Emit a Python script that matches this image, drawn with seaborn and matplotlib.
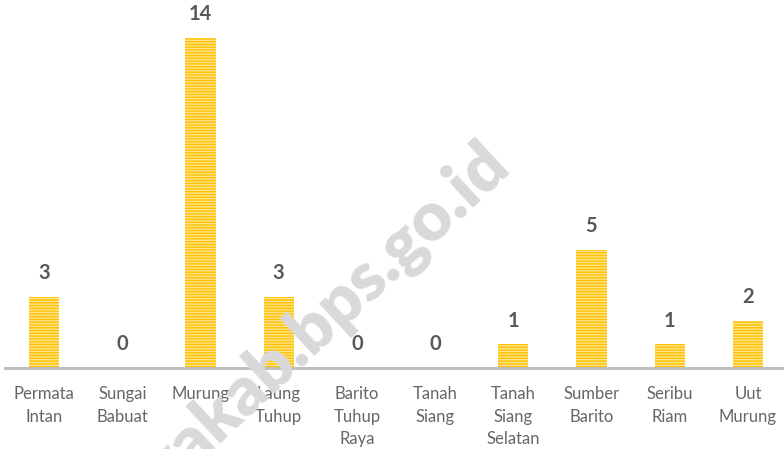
import numpy as np
import pandas as pd
import seaborn as sns
import matplotlib.pyplot as plt

# data
kecamatan = ["Permata\nIntan", "Sungai\nBabuat", "Murung", "Laung\nTuhup",
             "Barito\nTuhup\nRaya", "Tanah\nSiang", "Tanah\nSiang\nSelatan",
             "Sumber\nBarito", "Seribu\nRiam", "Uut\nMurung"]
jumlah = [3, 0, 14, 3, 0, 0, 1, 5, 1, 2]

watermark = "murungrayakab.bps.go.id"


def visualize():
    sns.set_style("white")
    plt.rcParams["font.family"] = ["Lato", "DejaVu Sans"]
    plt.rcParams["hatch.linewidth"] = 1.0

    data = pd.DataFrame({"kecamatan": kecamatan, "jumlah": jumlah})

    fig = plt.figure(figsize=(7.84, 4.49), dpi=100)
    ax = fig.add_axes([5 / 784, 81 / 449, 782 / 784, 368 / 449])

    # light watermark behind everything
    fig.text(512 / 784, 1 - 168 / 449, watermark, color="#D9D9D9",
             fontsize=49, fontweight="heavy", rotation=43,
             rotation_mode="anchor", ha="right", va="baseline", zorder=0)
    ax.patch.set_alpha(0)

    sns.barplot(data=data, x="kecamatan", y="jumlah", color="#FFC000",
                saturation=1, width=0.385, ax=ax)

    # striped look of the bars
    for bar in ax.patches:
        bar.set_hatch("------")
        bar.set_edgecolor("#FFE48C")
        bar.set_linewidth(0)

    for i, v in enumerate(jumlah):
        ax.annotate(str(v), (i, v), xytext=(0, 10), textcoords="offset points",
                    ha="center", va="bottom", fontsize=14.5,
                    fontweight="bold", color="#595959")

    ax.set_xlim(-0.5, 9.5)
    ax.set_ylim(0, 15.6)
    ax.set_xlabel("")
    ax.set_ylabel("")
    ax.set_yticks([])
    for side in ["top", "right", "left"]:
        ax.spines[side].set_visible(False)
    ax.spines["bottom"].set_color("#BFBFBF")
    ax.spines["bottom"].set_linewidth(2.2)
    ax.tick_params(axis="x", length=0, pad=13, labelsize=12,
                   labelcolor="#666666")
    for lbl in ax.get_xticklabels():
        lbl.set_linespacing(1.5)

    fig.savefig("out.png", dpi=100)


def main():
    visualize()


if __name__ == "__main__":
    main()
